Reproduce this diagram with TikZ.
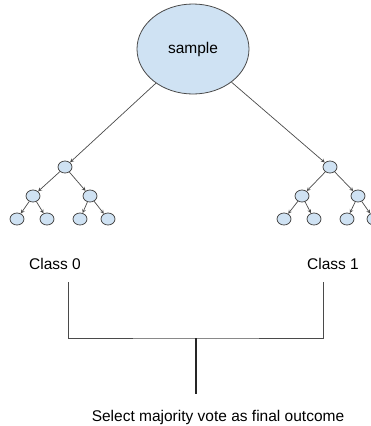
\documentclass[tikz,border=0pt]{standalone}
\usepackage{fontspec}
\setmainfont{Liberation Sans}
\usetikzlibrary{shapes,arrows,positioning}

\definecolor{nodeblue}{HTML}{CFE2F3}
\definecolor{edgegray}{HTML}{4A4A4A}

\begin{document}
\begin{tikzpicture}[
    x=1pt, y=-1pt,
    every node/.style={font=\fontsize{15.5}{18}\selectfont},
    root/.style={ellipse, draw=edgegray, fill=nodeblue, line width=0.8pt, minimum width=112pt, minimum height=90pt},
    leaf/.style={ellipse, draw=edgegray, fill=nodeblue, line width=0.8pt, minimum width=14pt, minimum height=12pt, inner sep=0pt},
    arrow/.style={->, >=stealth, draw=edgegray, line width=0.7pt},
    line/.style={draw=edgegray, line width=0.8pt}
]
    \clip (0,0) rectangle (371,426);

    \node[root] (sample) at (193,49) {sample};

    % left tree
    \node[leaf] (l0) at (65,167) {};
    \node[leaf] (l1) at (33,196) {};
    \node[leaf] (l2) at (90,196) {};
    \node[leaf] (l3) at (17,219) {};
    \node[leaf] (l4) at (47,219) {};
    \node[leaf] (l5) at (80,219) {};
    \node[leaf] (l6) at (108,219) {};

    % right tree
    \node[leaf] (r0) at (330,167) {};
    \node[leaf] (r1) at (302,196) {};
    \node[leaf] (r2) at (358,196) {};
    \node[leaf] (r3) at (284,219) {};
    \node[leaf] (r4) at (314,219) {};
    \node[leaf] (r5) at (347,219) {};
    \node[leaf] (r6) at (374,219) {};

    \draw[arrow] (sample) -- (l0);
    \draw[arrow] (l0) -- (l1);
    \draw[arrow] (l0) -- (l2);
    \draw[arrow] (l1) -- (l3);
    \draw[arrow] (l1) -- (l4);
    \draw[arrow] (l2) -- (l5);
    \draw[arrow] (l2) -- (l6);

    \draw[arrow] (sample) -- (r0);
    \draw[arrow] (r0) -- (r1);
    \draw[arrow] (r0) -- (r2);
    \draw[arrow] (r1) -- (r3);
    \draw[arrow] (r1) -- (r4);
    \draw[arrow] (r2) -- (r5);
    \draw[arrow] (r2) -- (r6);

    % votes
    \node (class0) at (55,264) {Class 0};
    \node (class1) at (333,264) {Class 1};
    \node (vote) at (218,417) {Select majority vote as final outcome};

    \coordinate (b0) at (68,282);
    \coordinate (b1) at (323,282);
    \coordinate (mid) at (196,338);
    \coordinate (vend) at (196,394);

    \draw[line] (b0) |- (mid) -| (b1);
    \draw[line, line width=1.6pt, draw=black!85] (mid) -- (vend);
\end{tikzpicture}
\end{document}
